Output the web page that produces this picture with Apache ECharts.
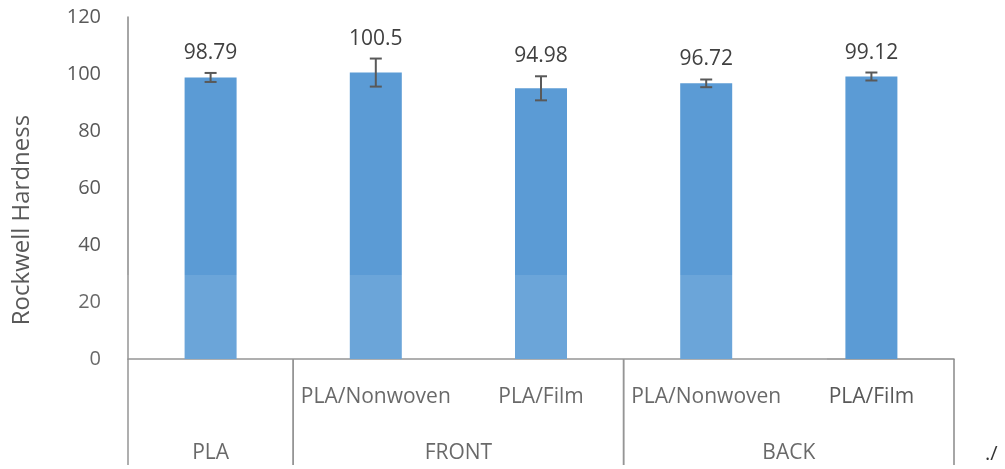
<!DOCTYPE html>
<html>
<head>
<meta charset="utf-8">
<script src="https://cdn.jsdelivr.net/npm/echarts@6/dist/echarts.min.js"></script>
<style>
  html, body { margin: 0; padding: 0; background: #fff; }
  #chart { width: 1005px; height: 469px; }
</style>
</head>
<body>
<div id="chart"></div>
<script>
// Sub-category labels (first row under the axis)
const categories = ['', 'PLA/Nonwoven', 'PLA/Film', 'PLA/Nonwoven', 'PLA/Film'];
// Mean Rockwell hardness per sample
const hardness = [98.79, 100.5, 94.98, 96.72, 99.12];
// Standard deviation (error bar half-length)
const stdDev = [1.58, 4.92, 4.22, 1.35, 1.4];
// Group labels (second row) with first and last category index
const groupNames = ['PLA', 'FRONT', 'BACK'];
const groupStart = [0, 1, 3];
const groupEnd = [0, 2, 4];
// Value axis range
const yMin = 0, yMax = 120, yStep = 20;

const axisGray = '#898989';
const textGray = '#595959';
const fontFamily = '"Open Sans", "Noto Sans", sans-serif';

const chart = echarts.init(document.getElementById('chart'), null, { renderer: 'canvas' });

const errorData = hardness.map((v, i) => [i, v - stdDev[i], v + stdDev[i], v]);
const groupData = groupNames.map((n, i) => [groupStart[i], groupEnd[i], 0]);

chart.setOption({
  animation: false,
  textStyle: { fontFamily },
  grid: { left: 128, right: 51, top: 17, bottom: 110, containLabel: false },
  xAxis: {
    type: 'category',
    data: categories,
    axisLine: { show: true, lineStyle: { color: axisGray, width: 1.5 } },
    axisTick: { show: false },
    axisLabel: { margin: 28, fontSize: 21, color: textGray, fontFamily, interval: 0 },
    splitLine: { show: false }
  },
  yAxis: {
    type: 'value',
    min: yMin, max: yMax, interval: yStep,
    name: 'Rockwell Hardness',
    nameLocation: 'middle',
    nameGap: 94,
    nameTextStyle: { fontSize: 24, color: textGray, fontFamily, padding: [0, 64, 0, 0] },
    axisLine: { show: true, lineStyle: { color: axisGray, width: 1.5 } },
    axisTick: { show: false },
    splitLine: { show: false },
    axisLabel: { margin: 27, fontSize: 20, color: textGray, fontFamily, padding: [5, 0, 0, 0] }
  },
  series: [
    {
      name: 'Rockwell Hardness',
      type: 'bar',
      data: hardness,
      barWidth: 52,
      itemStyle: { color: '#5B9BD5' },
      z: 2
    },
    {
      // error bars with the mean value written above each whisker
      type: 'custom',
      data: errorData,
      encode: { x: 0, y: [1, 2] },
      clip: false,
      z: 5,
      renderItem: function (params, api) {
        const x = api.value(0);
        const lo = api.coord([x, api.value(1)]);
        const hi = api.coord([x, api.value(2)]);
        const cap = 6;
        const style = { stroke: '#595959', lineWidth: 2 };
        const mean = hardness[params.dataIndex];
        return {
          type: 'group',
          children: [
            { type: 'line', shape: { x1: hi[0], y1: hi[1], x2: lo[0], y2: lo[1] }, style },
            { type: 'line', shape: { x1: hi[0] - cap, y1: hi[1], x2: hi[0] + cap, y2: hi[1] }, style },
            { type: 'line', shape: { x1: lo[0] - cap, y1: lo[1], x2: lo[0] + cap, y2: lo[1] }, style },
            {
              type: 'text',
              style: {
                x: hi[0], y: hi[1] - 20,
                text: String(mean),
                fill: '#404040',
                font: '21px ' + fontFamily,
                textAlign: 'center',
                textVerticalAlign: 'middle'
              }
            }
          ]
        };
      }
    },
    {
      // second label row: group boxes and group names
      type: 'custom',
      data: groupData,
      encode: { x: [0, 1], y: 2 },
      clip: false,
      silent: true,
      z: 4,
      renderItem: function (params, api) {
        const bw = api.size([1, 0])[0];
        const a = api.coord([api.value(0), 0]);
        const b = api.coord([api.value(1), 0]);
        const x0 = a[0] - bw / 2;
        const x1 = b[0] + bw / 2;
        const y0 = a[1];
        const style = { stroke: axisGray, lineWidth: 1.5 };
        return {
          type: 'group',
          children: [
            { type: 'line', shape: { x1: x0, y1: y0, x2: x0, y2: y0 + 106 }, style },
            { type: 'line', shape: { x1: x1, y1: y0, x2: x1, y2: y0 + 106 }, style },
            {
              type: 'text',
              style: {
                x: (x0 + x1) / 2, y: y0 + 94,
                text: groupNames[params.dataIndex],
                fill: textGray,
                font: '21px ' + fontFamily,
                textAlign: 'center',
                textVerticalAlign: 'middle'
              }
            }
          ]
        };
      }
    }
  ],
  graphic: [
    {
      type: 'rect',
      silent: true,
      z: 100,
      shape: { x: 72, y: 275, width: 755, height: 194 },
      style: { fill: 'rgba(255,255,255,0.1)' }
    },
    {
      type: 'text',
      left: 985, top: 444,
      style: { text: './', fill: '#333', font: '20px ' + fontFamily }
    }
  ]
});
</script>
</body>
</html>
